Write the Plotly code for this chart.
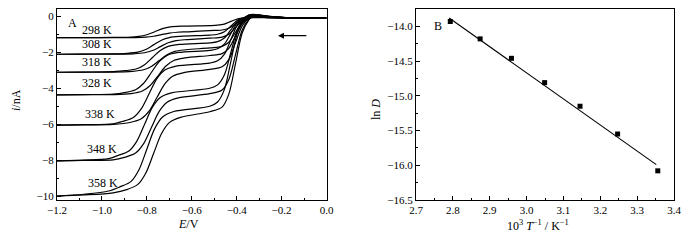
import plotly.graph_objects as go

# ---------------- Panel A data (E / V, i / nA) ----------------
temps = ["298 K", "308 K", "318 K", "328 K", "338 K", "348 K", "358 K"]

E_298a = [-1.2, -1.08, -0.95, -0.885, -0.835, -0.80, -0.765, -0.73, -0.695, -0.645, -0.52, -0.485, -0.455, -0.425, -0.395, -0.365, -0.345, -0.25, -0.15, 0.0]
I_298a = [-1.19, -1.19, -1.18, -1.168, -1.124, -1.028, -0.86, -0.692, -0.596, -0.552, -0.52, -0.498, -0.436, -0.29, -0.144, -0.082, -0.06, -0.08, -0.1, -0.1]
E_298b = [-1.2, -1.08, -0.95, -0.855, -0.805, -0.77, -0.735, -0.70, -0.665, -0.615, -0.52, -0.465, -0.435, -0.405, -0.375, -0.345, -0.325, -0.25, -0.15, 0.0]
I_298b = [-1.19, -1.19, -1.19, -1.184, -1.161, -1.112, -1.025, -0.938, -0.889, -0.866, -0.80, -0.766, -0.669, -0.44, -0.211, -0.114, -0.08, -0.09, -0.1, -0.1]

E_308a = [-1.2, -1.08, -0.95, -0.89, -0.84, -0.805, -0.77, -0.735, -0.70, -0.65, -0.52, -0.485, -0.455, -0.425, -0.395, -0.365, -0.345, -0.25, -0.15, 0.0]
I_308a = [-2.11, -2.10, -2.09, -2.062, -1.994, -1.848, -1.59, -1.332, -1.186, -1.118, -1.05, -1.002, -0.864, -0.54, -0.216, -0.078, -0.03, -0.065, -0.1, -0.1]
E_308b = [-1.2, -1.08, -0.95, -0.86, -0.81, -0.775, -0.74, -0.705, -0.67, -0.62, -0.52, -0.465, -0.435, -0.405, -0.375, -0.345, -0.325, -0.25, -0.15, 0.0]
I_308b = [-2.11, -2.10, -2.10, -2.085, -2.028, -1.906, -1.69, -1.474, -1.352, -1.295, -1.22, -1.165, -1.007, -0.635, -0.263, -0.105, -0.05, -0.075, -0.1, -0.1]

E_318a = [-1.2, -1.08, -0.95, -0.895, -0.845, -0.81, -0.775, -0.74, -0.705, -0.655, -0.52, -0.485, -0.455, -0.425, -0.395, -0.365, -0.345, -0.25, -0.15, 0.0]
I_318a = [-3.11, -3.10, -3.08, -3.023, -2.917, -2.692, -2.295, -1.898, -1.673, -1.567, -1.48, -1.41, -1.211, -0.74, -0.269, -0.07, 0.0, -0.05, -0.1, -0.1]
E_318b = [-1.2, -1.08, -0.95, -0.865, -0.815, -0.78, -0.745, -0.71, -0.675, -0.625, -0.52, -0.465, -0.435, -0.405, -0.375, -0.345, -0.325, -0.25, -0.15, 0.0]
I_318b = [-3.11, -3.10, -3.10, -3.058, -2.971, -2.786, -2.46, -2.134, -1.949, -1.862, -1.76, -1.678, -1.443, -0.89, -0.337, -0.102, -0.02, -0.06, -0.1, -0.1]

E_328a = [-1.2, -1.08, -0.95, -0.90, -0.85, -0.815, -0.78, -0.745, -0.71, -0.66, -0.52, -0.485, -0.455, -0.425, -0.395, -0.365, -0.345, -0.25, -0.15, 0.0]
I_328a = [-4.37, -4.35, -4.32, -4.238, -4.077, -3.733, -3.125, -2.517, -2.173, -2.012, -1.90, -1.81, -1.551, -0.94, -0.329, -0.07, 0.02, -0.04, -0.1, -0.1]
E_328b = [-1.2, -1.08, -0.95, -0.87, -0.82, -0.785, -0.75, -0.715, -0.68, -0.63, -0.52, -0.465, -0.435, -0.405, -0.375, -0.345, -0.325, -0.25, -0.15, 0.0]
I_328b = [-4.37, -4.36, -4.35, -4.293, -4.15, -3.844, -3.305, -2.766, -2.46, -2.317, -2.18, -2.078, -1.783, -1.09, -0.397, -0.102, 0.0, -0.05, -0.1, -0.1]

E_338a = [-1.2, -1.08, -0.95, -0.91, -0.86, -0.825, -0.79, -0.755, -0.72, -0.67, -0.52, -0.485, -0.455, -0.425, -0.395, -0.365, -0.345, -0.25, -0.15, 0.0]
I_338a = [-6.04, -6.02, -5.97, -5.843, -5.619, -5.144, -4.305, -3.466, -2.991, -2.767, -2.60, -2.476, -2.12, -1.28, -0.44, -0.084, 0.04, -0.03, -0.1, -0.1]
E_338b = [-1.2, -1.08, -0.95, -0.875, -0.825, -0.79, -0.755, -0.72, -0.685, -0.635, -0.52, -0.465, -0.435, -0.405, -0.375, -0.345, -0.325, -0.25, -0.15, 0.0]
I_338b = [-6.04, -6.03, -6.00, -5.898, -5.697, -5.27, -4.515, -3.76, -3.333, -3.132, -2.95, -2.81, -2.409, -1.465, -0.521, -0.12, 0.02, -0.04, -0.1, -0.1]

E_348a = [-1.2, -1.08, -0.97, -0.93, -0.88, -0.845, -0.81, -0.775, -0.74, -0.69, -0.52, -0.485, -0.455, -0.425, -0.395, -0.365, -0.345, -0.25, -0.15, 0.0]
I_348a = [-8.03, -7.99, -7.90, -7.735, -7.482, -6.944, -5.995, -5.046, -4.508, -4.255, -4.00, -3.809, -3.261, -1.97, -0.679, -0.131, 0.06, -0.02, -0.1, -0.1]
E_348b = [-1.2, -1.08, -0.95, -0.90, -0.85, -0.815, -0.78, -0.745, -0.71, -0.66, -0.52, -0.465, -0.435, -0.405, -0.375, -0.345, -0.325, -0.25, -0.15, 0.0]
I_348b = [-8.03, -8.00, -7.97, -7.838, -7.598, -7.087, -6.185, -5.283, -4.772, -4.532, -4.30, -4.096, -3.51, -2.13, -0.75, -0.164, 0.04, -0.03, -0.1, -0.1]

E_358a = [-1.2, -1.08, -0.97, -0.92, -0.87, -0.835, -0.80, -0.765, -0.73, -0.68, -0.52, -0.485, -0.455, -0.425, -0.395, -0.365, -0.345, -0.25, -0.15, 0.0]
I_358a = [-9.98, -9.88, -9.70, -9.472, -9.168, -8.521, -7.38, -6.239, -5.592, -5.288, -5.00, -4.761, -4.075, -2.46, -0.845, -0.159, 0.08, -0.01, -0.1, -0.1]
E_358b = [-1.2, -1.08, -0.95, -0.89, -0.84, -0.805, -0.77, -0.735, -0.70, -0.65, -0.52, -0.465, -0.435, -0.405, -0.375, -0.345, -0.325, -0.25, -0.15, 0.0]
I_358b = [-9.98, -9.92, -9.80, -9.625, -9.334, -8.714, -7.62, -6.526, -5.906, -5.615, -5.30, -5.048, -4.324, -2.62, -0.916, -0.192, 0.06, -0.02, -0.1, -0.1]

label_E = [-1.023, -1.022, -1.022, -1.022, -1.009, -1.0, -0.996]
label_i = [-0.77, -1.56, -2.56, -3.72, -5.43, -7.37, -9.24]

# ---------------- Panel B data ----------------
invT = [2.793, 2.874, 2.959, 3.049, 3.145, 3.247, 3.356]
lnD = [-13.93, -14.18, -14.46, -14.81, -15.15, -15.55, -16.08]
fit_x = [2.79, 3.352]
fit_y = [-13.88, -15.99]

curves = [
    (E_298a, I_298a), (E_298b, I_298b), (E_308a, I_308a), (E_308b, I_308b),
    (E_318a, I_318a), (E_318b, I_318b), (E_328a, I_328a), (E_328b, I_328b),
    (E_338a, I_338a), (E_338b, I_338b), (E_348a, I_348a), (E_348b, I_348b),
    (E_358a, I_358a), (E_358b, I_358b),
]

FONT = "Liberation Serif, Times New Roman, serif"
W, H = 700, 240


def px_x(p):
    return p / W


def px_y(p):
    return 1 - p / H


fig = go.Figure()
for ex, iy in curves:
    fig.add_trace(go.Scatter(x=ex, y=iy, mode="lines", xaxis="x", yaxis="y",
                             line=dict(color="black", width=1.2, shape="spline", smoothing=0.9),
                             showlegend=False, hoverinfo="skip"))

fig.add_trace(go.Scatter(x=fit_x, y=fit_y, mode="lines", xaxis="x2", yaxis="y2",
                         line=dict(color="black", width=1.1), showlegend=False))
fig.add_trace(go.Scatter(x=invT, y=lnD, mode="markers", xaxis="x2", yaxis="y2",
                         marker=dict(symbol="square", size=5, color="black"), showlegend=False))

axis_common = dict(showline=True, linecolor="black", linewidth=1, mirror=True,
                   ticks="inside", ticklen=4, tickwidth=1, tickcolor="black",
                   showgrid=False, zeroline=False, automargin=False,
                   tickfont=dict(family=FONT, size=11, color="black"))

fig.update_layout(
    template="none",
    width=W, height=H,
    margin=dict(l=0, r=0, t=0, b=0, pad=0),
    paper_bgcolor="white", plot_bgcolor="white",
    font=dict(family=FONT, size=12, color="black"),
    xaxis=dict(domain=[px_x(57), px_x(326.5)], anchor="y", range=[-1.2, 0.0], dtick=0.2,
               tickformat=".1f", minor=dict(dtick=0.1, ticks="inside", ticklen=2, tickcolor="black"),
               **axis_common),
    yaxis=dict(domain=[px_y(200), px_y(9)], anchor="x", range=[-10.2, 0.4], dtick=2,
               minor=dict(dtick=1, ticks="inside", ticklen=2, tickcolor="black"),
               **axis_common),
    xaxis2=dict(domain=[px_x(416), px_x(674)], anchor="y2", range=[2.7, 3.4], dtick=0.1,
                tickformat=".1f", minor=dict(dtick=0.05, ticks="inside", ticklen=2, tickcolor="black"),
                **axis_common),
    yaxis2=dict(domain=[px_y(200), px_y(9)], anchor="x2", range=[-16.5, -13.75], dtick=0.5,
                tickformat=".1f", minor=dict(dtick=0.25, ticks="inside", ticklen=2, tickcolor="black"),
                **axis_common),
)

ann = []
for t, ex, iy in zip(temps, label_E, label_i):
    ann.append(dict(x=ex, y=iy, xref="x", yref="y", text=t, showarrow=False,
                    xanchor="center", yanchor="middle",
                    font=dict(family=FONT, size=12, color="black")))
ann.append(dict(x=-1.13, y=-0.39, xref="x", yref="y", text="A", showarrow=False,
                xanchor="center", yanchor="middle",
                font=dict(family=FONT, size=12, color="black")))
ann.append(dict(x=-0.216, y=-1.08, ax=-0.083, ay=-1.08, xref="x", yref="y", axref="x", ayref="y",
                text="", showarrow=True, arrowhead=2, arrowsize=1, arrowwidth=1.2, arrowcolor="black"))
ann.append(dict(x=2.76, y=-14.0, xref="x2", yref="y2", text="B", showarrow=False,
                xanchor="center", yanchor="middle",
                font=dict(family=FONT, size=12, color="black")))
# axis titles
title_font = dict(family=FONT, size=12, color="black")
ann.append(dict(x=px_x(188), y=px_y(224), xref="paper", yref="paper", text="<i>E</i>/V",
                xanchor="center", yanchor="middle", showarrow=False, font=title_font))
ann.append(dict(x=px_x(16), y=px_y(100), xref="paper", yref="paper", text="<i>i</i>/nA",
                xanchor="center", yanchor="middle", textangle=-90, showarrow=False, font=title_font))
ann.append(dict(x=px_x(538), y=px_y(225), xref="paper", yref="paper",
                text="10<sup>3</sup> <i>T</i><sup>−1</sup> / K<sup>−1</sup>",
                xanchor="center", yanchor="middle", showarrow=False, font=title_font))
ann.append(dict(x=px_x(376), y=px_y(110), xref="paper", yref="paper", text="ln <i>D</i>",
                xanchor="center", yanchor="middle", textangle=-90, showarrow=False, font=title_font))
fig.update_layout(annotations=ann)

fig.write_html("out.html", config={"displayModeBar": False},
               post_script="document.body.style.margin='0';document.body.style.overflow='hidden';")
